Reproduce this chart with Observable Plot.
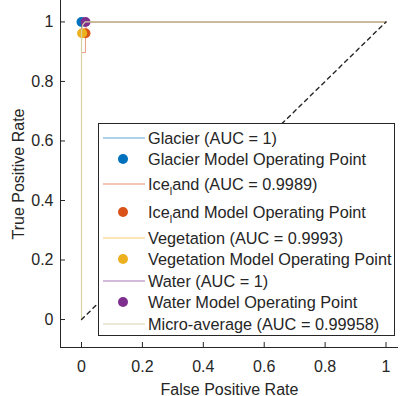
<!DOCTYPE html>
<html>
<head>
<meta charset="utf-8">
<script src="https://cdn.jsdelivr.net/npm/d3@7"></script>
<script src="https://cdn.jsdelivr.net/npm/@observablehq/plot@0.6"></script>
<style>
  html, body { margin: 0; padding: 0; background: white; }
  #chart { width: 401px; height: 396px; }
</style>
</head>
<body>
<div id="chart"></div>
<script>
// ---- data ----
const seriesNames = ["Glacier", "Ice_land", "Vegetation", "Water"];
const aucValues = ["1", "0.9989", "0.9993", "1"];
const microAUC = "0.99958";
const seriesColors = ["#0072BD", "#D95319", "#EDB120", "#7E2F8E"];
const microColor = "#d6d2a4";

const glacierFPR = [0, 0, 1];
const glacierTPR = [0, 1, 1];
const icelandFPR = [0, 0, 0.013, 0.013, 0.016, 1];
const icelandTPR = [0, 0.897, 0.897, 0.962, 1, 1];
const vegetationFPR = [0, 0, 0.002, 0.002, 1];
const vegetationTPR = [0, 0.962, 0.962, 1, 1];
const waterFPR = [0, 0, 1];
const waterTPR = [0, 1, 1];
const microFPR = [0, 0, 0.004, 0.012, 1];
const microTPR = [0, 0.97, 0.99, 1, 1];

// operating points [FPR, TPR]
const opFPR = [0, 0.013, 0.002, 0.013];
const opTPR = [1, 0.962, 0.962, 1];

const diagFPR = [0, 1];
const diagTPR = [0, 1];

const xTicks = [0, 0.2, 0.4, 0.6, 0.8, 1];
const yTicks = [0, 0.2, 0.4, 0.6, 0.8, 1];

// ---- build tables ----
const zipXY = (xs, ys) => xs.map((x, i) => ({x, y: ys[i]}));
const curves = [
  zipXY(glacierFPR, glacierTPR),
  zipXY(icelandFPR, icelandTPR),
  zipXY(vegetationFPR, vegetationTPR),
  zipXY(waterFPR, waterTPR)
];
const micro = zipXY(microFPR, microTPR);
const diag = zipXY(diagFPR, diagTPR);
const ops = opFPR.map((x, i) => ({x, y: opTPR[i], c: seriesColors[i]}));

const ink = "#262626";
const marks = [];
curves.forEach((c, i) => {
  marks.push(Plot.line(c, {x: "x", y: "y", stroke: seriesColors[i], strokeWidth: 1, strokeOpacity: 0.55}));
  marks.push(Plot.dot([ops[i]], {x: "x", y: "y", r: 5, fill: seriesColors[i], stroke: "none"}));
});
marks.push(Plot.line(micro, {x: "x", y: "y", stroke: microColor, strokeWidth: 1.2}));
marks.push(Plot.line(diag, {x: "x", y: "y", stroke: ink, strokeWidth: 1.4, strokeDasharray: "4,4"}));
marks.push(Plot.ruleY([-0.094], {stroke: ink, strokeWidth: 1}));
marks.push(Plot.ruleX([-0.069], {stroke: ink, strokeWidth: 1}));
marks.push(Plot.axisX({ticks: xTicks, tickFormat: d => String(d), tickSize: -5, tickPadding: 18,
  label: "False Positive Rate", labelAnchor: "center", labelArrow: "none", labelOffset: 47, stroke: ink}));
marks.push(Plot.axisY({ticks: yTicks, tickFormat: d => String(d), tickSize: -5, tickPadding: 12,
  label: "True Positive Rate", labelAnchor: "center", labelArrow: "none", labelOffset: 48, stroke: ink}));

const chart = Plot.plot({
  width: 401,
  height: 396,
  marginLeft: 60,
  marginRight: 3,
  marginTop: 0,
  marginBottom: 49,
  style: {fontFamily: "'Liberation Sans', Arial, sans-serif", fontSize: "16px", color: ink, background: "white"},
  x: {domain: [-0.069, 1.041]},
  y: {domain: [-0.094, 1.072]},
  marks
});
document.getElementById("chart").appendChild(chart);

// ---- legend (overlay) ----
const legendEntries = [];
seriesNames.forEach((n, i) => {
  legendEntries.push({type: "line", color: seriesColors[i], label: `${n} (AUC = ${aucValues[i]})`});
  legendEntries.push({type: "dot", color: seriesColors[i], label: `${n} Model Operating Point`});
});
legendEntries.push({type: "line", color: "#bcb88c", label: `Micro-average (AUC = ${microAUC})`});

const rowY = [138, 159, 184, 212, 238, 259, 281, 302, 324];
const svg = d3.select(chart);
const lg = svg.append("g").attr("font-family", "'Liberation Sans', Arial, sans-serif")
  .attr("font-size", 16.3).attr("text-anchor", "start");
lg.append("rect").attr("x", 98.5).attr("y", 123.5).attr("width", 296).attr("height", 212)
  .attr("fill", "white").attr("stroke", ink).attr("stroke-width", 1);
legendEntries.forEach((e, i) => {
  const y = rowY[i];
  if (e.type === "line") {
    lg.append("line").attr("x1", 103).attr("x2", 145).attr("y1", y).attr("y2", y)
      .attr("stroke", e.color).attr("stroke-width", 1).attr("stroke-opacity", 0.65);
  } else {
    lg.append("circle").attr("cx", 123).attr("cy", y).attr("r", 5).attr("fill", e.color);
  }
  const t = lg.append("text").attr("x", 148).attr("y", y).attr("dy", "0.36em")
    .attr("fill", ink).attr("text-anchor", "start");
  const parts = e.label.split("_");
  t.append("tspan").text(parts[0]);
  for (let k = 1; k < parts.length; k++) {
    t.append("tspan").attr("font-size", 11).attr("dy", 5).text(parts[k][0]);
    t.append("tspan").attr("dy", -5).text(parts[k].slice(1));
  }
});
</script>
</body>
</html>
